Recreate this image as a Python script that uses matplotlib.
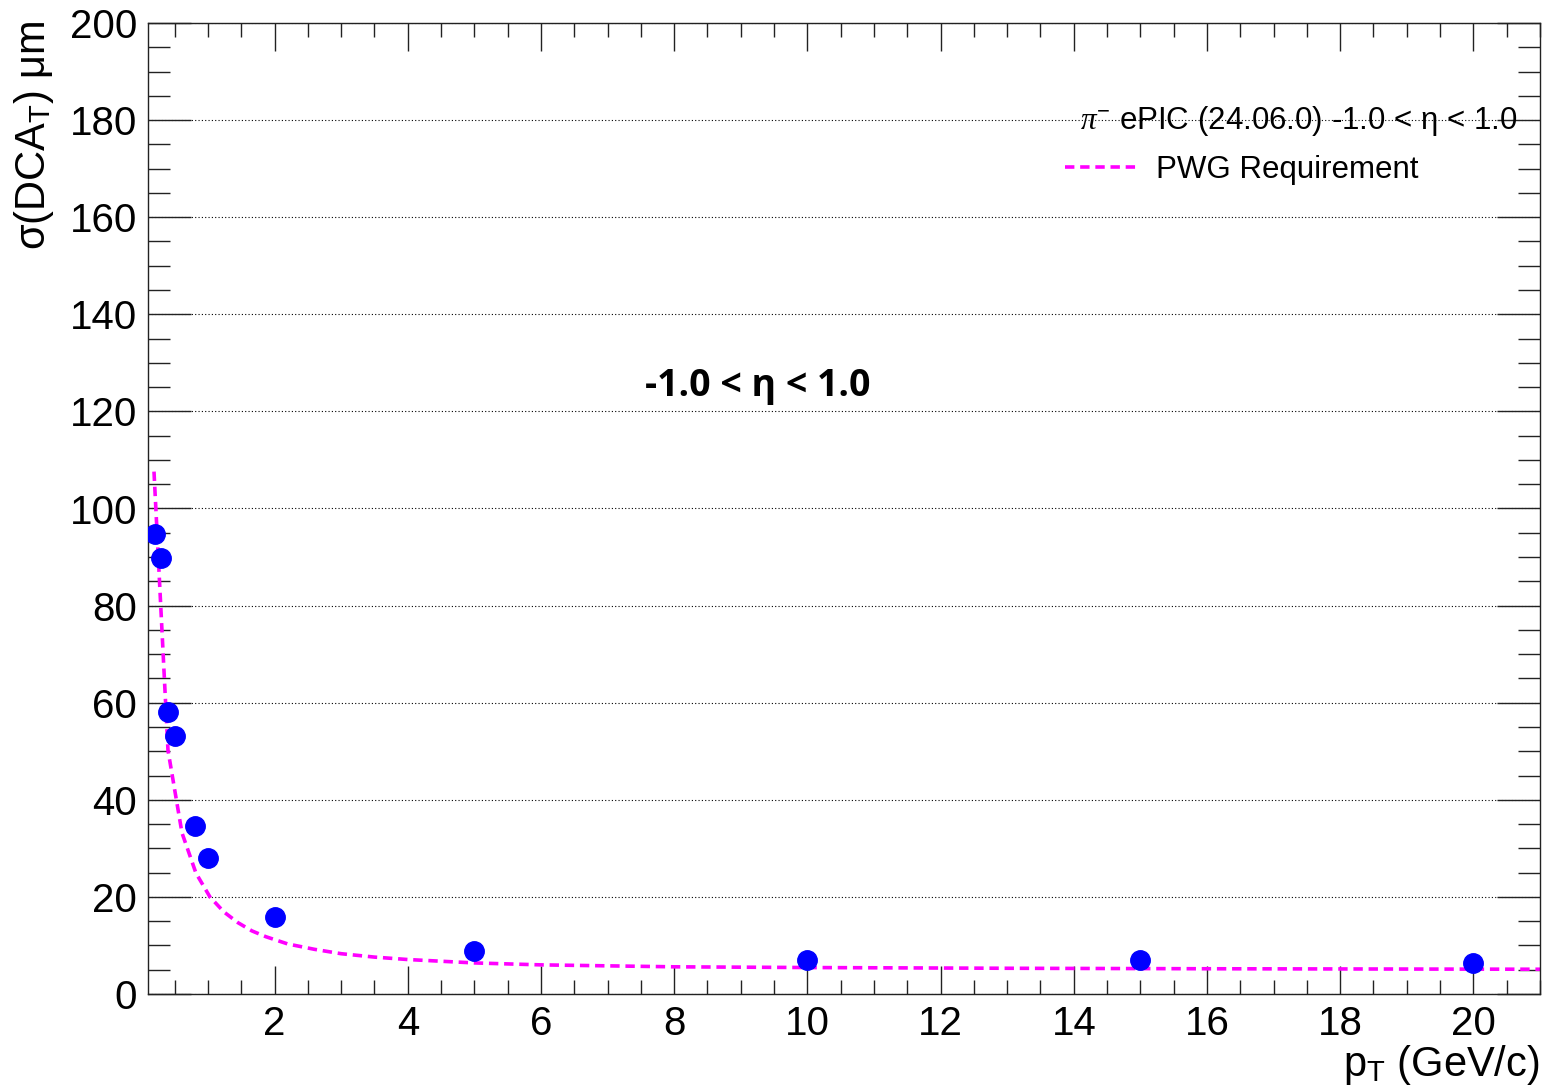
import matplotlib
matplotlib.use("Agg")
import matplotlib.pyplot as plt
from matplotlib.ticker import MultipleLocator
from matplotlib.lines import Line2D

# measured points (pi-, -1.0 < eta < 1.0)
pt = [0.2, 0.3, 0.4, 0.5, 0.8, 1.0, 2.0, 5.0, 10.0, 15.0, 20.0]
sigma_dca = [94.7, 89.8, 58.0, 53.2, 34.7, 28.1, 15.8, 8.9, 7.1, 7.0, 6.45]

# PWG requirement curve at its vertices
req_pt = [0.19, 0.40, 0.61, 0.82, 1.03, 1.24, 1.45, 1.66, 1.87, 2.2, 2.6,
          3.0, 3.5, 4.0, 5.0, 6.0, 8.0, 10.0, 13.0, 16.0, 21.0]
req_sigma = [107.6, 50.2, 33.2, 24.9, 20.0, 16.9, 14.7, 13.0, 11.8, 10.3, 9.2,
             8.3, 7.6, 7.1, 6.4, 6.0, 5.6, 5.45, 5.3, 5.2, 5.1]

header = r"$\pi^{-}$ ePIC (24.06.0) -1.0 < η < 1.0"
req_label = "PWG Requirement"
eta_label = "-1.0 < η < 1.0"

plt.rcParams['font.family'] = ['Liberation Sans', 'DejaVu Sans']
plt.rcParams['mathtext.fontset'] = 'custom'
plt.rcParams['mathtext.rm'] = 'Liberation Sans'
plt.rcParams['mathtext.it'] = 'Liberation Serif:italic'

fig = plt.figure(figsize=(15.53, 10.92), dpi=100)
W, H = 1553, 1092
ax = fig.add_axes([148 / W, (H - 994) / H, (1540 - 148) / W, (994 - 23) / H])

ax.set_xlim(0.1, 21)
ax.set_ylim(0, 200)

# dotted horizontal grid
ax.yaxis.grid(True, linestyle=(0, (1, 2)), color='black', lw=0.8)
ax.set_axisbelow(True)

magenta = '#ff00ff'
ax.plot(req_pt, req_sigma, color=magenta, lw=2.6, linestyle=(0, (2.6, 1.6)),
        label=req_label, zorder=2)
ax.plot(pt, sigma_dca, 'o', color='#0000ff', ms=14, mec='#0000ff', zorder=3)

ax.xaxis.set_major_locator(MultipleLocator(2))
ax.xaxis.set_minor_locator(MultipleLocator(0.5))
ax.yaxis.set_major_locator(MultipleLocator(20))
ax.yaxis.set_minor_locator(MultipleLocator(5))

ax.tick_params(which='both', direction='in', top=True, right=True,
               width=1.0, color='#222222', labelsize=29)
ax.tick_params(axis='x', which='major', length=20, pad=8)
ax.tick_params(axis='x', which='minor', length=10)
ax.tick_params(axis='y', which='major', length=31, pad=8)
ax.tick_params(axis='y', which='minor', length=16)
ax.set_xticks([2, 4, 6, 8, 10, 12, 14, 16, 18, 20])
for s in ax.spines.values():
    s.set_linewidth(1.0)
    s.set_color('#222222')

ax.set_xlabel(r"p$_{\mathrm{T}}$ (GeV/c)", fontsize=30, ha='right')
ax.xaxis.set_label_coords(1.0, -0.05)
ax.set_ylabel(r"σ(DCA$_{\mathrm{T}}$) μm", fontsize=30, loc='top')
ax.yaxis.set_label_coords(-0.066, 1.003)

ax.text((1080 - 148) / 1392, (994 - 121) / 971, header, transform=ax.transAxes,
        fontsize=22.5, va='center', ha='left')
leg = ax.legend(handles=[Line2D([], [], color=magenta, lw=2.6,
                                linestyle=(0, (2.6, 1.6)))],
                labels=[req_label], loc='center left',
                bbox_to_anchor=((1065 - 148) / 1392, (994 - 170) / 971),
                frameon=False, fontsize=22.5, borderpad=0, borderaxespad=0,
                handlelength=2.3, handletextpad=0.6)

ax.text(9.25, 125.3, eta_label, family=['Open Sans', 'DejaVu Sans'],
        fontweight='bold', fontsize=27, ha='center', va='center')

fig.savefig("out.png", dpi=100)
